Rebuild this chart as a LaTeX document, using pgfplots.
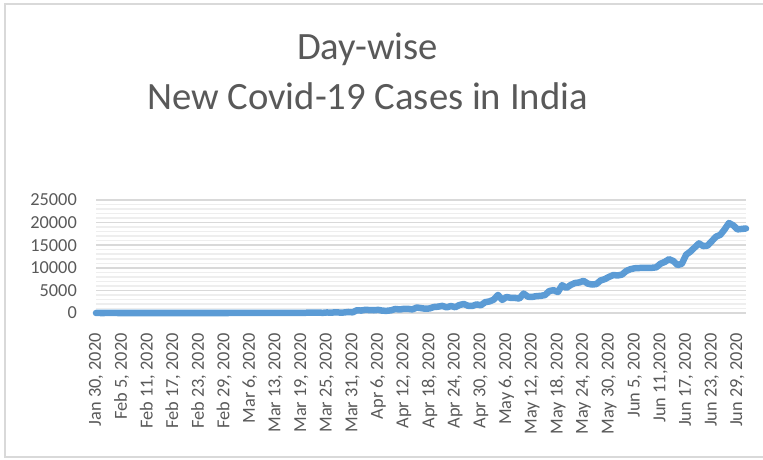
\documentclass[border=0pt]{standalone}
\usepackage{pgfplots}
\usepackage{pgfplotstable}
\pgfplotsset{compat=1.18}
\usepackage{fontspec}
\setmainfont{Carlito}
\definecolor{txt}{HTML}{595959}
\definecolor{majorg}{HTML}{D9D9D9}
\definecolor{minorg}{HTML}{EEEEEE}
\definecolor{series}{HTML}{5B9BD5}

\pgfplotstableread{
idx val
0 1
1 0
2 0
3 1
4 1
5 0
6 0
7 0
8 0
9 0
10 0
11 0
12 0
13 0
14 0
15 0
16 0
17 0
18 0
19 0
20 0
21 0
22 0
23 0
24 0
25 0
26 0
27 0
28 0
29 0
30 0
31 0
32 2
33 1
34 22
35 2
36 1
37 5
38 9
39 15
40 8
41 10
42 14
43 10
44 12
45 22
46 23
47 14
48 38
49 50
50 86
51 66
52 103
53 37
54 121
55 70
56 160
57 100
58 112
59 227
60 146
61 601
62 545
63 703
64 643
65 606
66 693
67 508
68 485
69 591
70 896
71 768
72 918
73 909
74 796
75 1211
76 1076
77 941
78 1007
79 1324
80 1400
81 1580
82 1240
83 1540
84 1290
85 1770
86 1990
87 1600
88 1560
89 1900
90 1700
91 2400
92 2560
93 2950
94 4000
95 2900
96 3550
97 3340
98 3340
99 3200
100 4300
101 3600
102 3560
103 3730
104 3790
105 3970
106 4860
107 5050
108 4630
109 6150
110 5550
111 6200
112 6630
113 6760
114 7110
115 6500
116 6300
117 6400
118 7200
119 7500
120 8000
121 8400
122 8300
123 8500
124 9300
125 9700
126 9900
127 9950
128 10000
129 10000
130 10000
131 10100
132 10900
133 11300
134 11900
135 11500
136 10600
137 10900
138 12900
139 13600
140 14500
141 15400
142 14800
143 14900
144 15900
145 16900
146 17300
147 18500
148 19900
149 19400
150 18500
151 18600
152 18700
}\data

\begin{document}
\begin{tikzpicture}
\useasboundingbox (0bp,0bp) rectangle (763bp,460bp);
\draw[majorg, line width=2bp] (790bp,456bp) -- (5bp,456bp) -- (5bp,3bp) -- (790bp,3bp);
\node[text=txt, font=\fontsize{38.8}{46}\selectfont, anchor=base, inner sep=0pt] at (367.5bp,400bp) {Day-wise};
\node[text=txt, font=\fontsize{38.8}{46}\selectfont, anchor=base, inner sep=0pt] at (367.5bp,350bp) {New Covid-19 Cases in India};
\begin{axis}[
  at={(96bp,147bp)}, anchor=south west,
  width=650bp, height=113bp, scale only axis,
  xmin=0, xmax=152, ymin=0, ymax=25000,
  clip=false,
  scaled y ticks=false,
  xtick={0,6,...,150},
  xticklabels={{Jan 30, 2020},{Feb 5, 2020},{Feb 11, 2020},{Feb 17, 2020},{Feb 23, 2020},{Feb 29, 2020},{Mar 6, 2020},{Mar 13, 2020},{Mar 19, 2020},{Mar 25, 2020},{Mar 31, 2020},{Apr 6, 2020},{Apr 12, 2020},{Apr 18, 2020},{Apr 24, 2020},{Apr 30, 2020},{May 6, 2020},{May 12, 2020},{May 18, 2020},{May 24, 2020},{May 30, 2020},{Jun 5, 2020},{Jun 11,2020},{Jun 17, 2020},{Jun 23, 2020},{Jun 29, 2020}},
  ytick={0,5000,...,25000},
  minor y tick num=4,
  ymajorgrids, yminorgrids,
  major grid style={majorg, line width=1.5bp},
  minor grid style={minorg, line width=1.5bp},
  axis line style={draw=none},
  tick style={draw=none},
  /pgf/number format/assume math mode=true,
  /pgf/number format/1000 sep={},
  tick label style={font=\fontsize{18.4}{20}\selectfont, text=txt},
  yticklabel style={inner sep=0pt, anchor=east, xshift=-19bp},
  xticklabel style={inner sep=0pt, yshift=-20bp, rotate=90, anchor=east},
]
\addplot[series, line width=6.5bp, line join=round, line cap=round] table[x=idx, y=val] {\data};
\end{axis}
\end{tikzpicture}
\end{document}
